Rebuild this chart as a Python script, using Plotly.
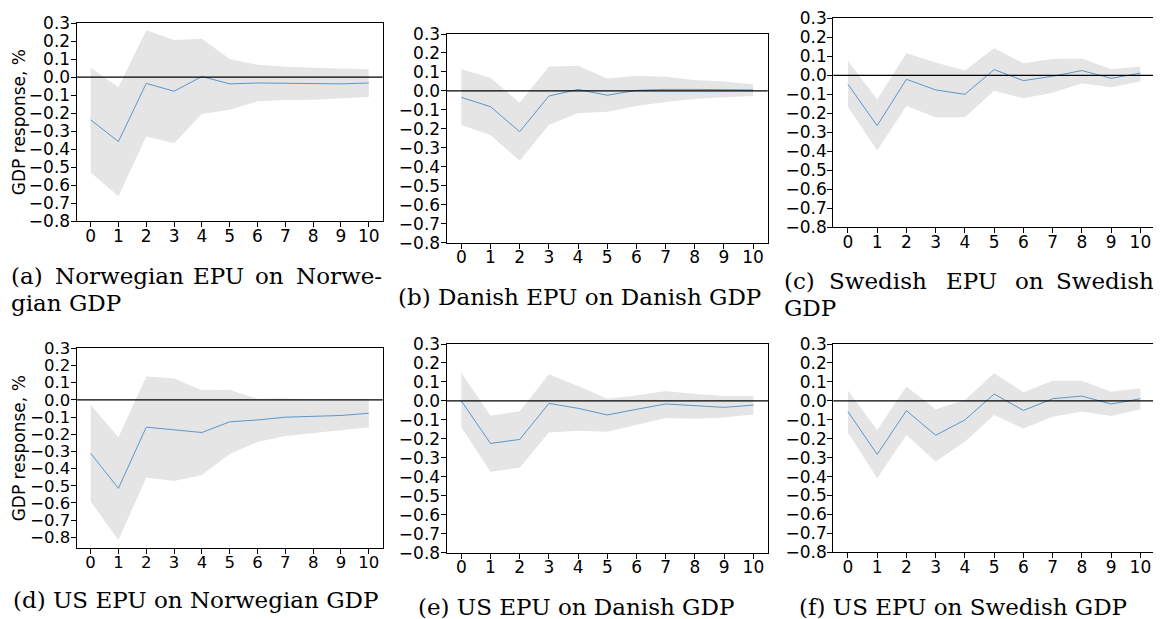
import plotly.graph_objects as go

W, H = 1161, 619
OFF = 8  # page body margin offset compensation

horizons = list(range(11))
y_ticks = [round(-0.8 + 0.1 * i, 1) for i in range(12)]

# (a) Norwegian EPU on Norwegian GDP
a_mid = [-0.237, -0.358, -0.034, -0.078, 0.004, -0.037, -0.032, -0.034, -0.037, -0.037, -0.032]
a_up = [0.052, -0.056, 0.261, 0.207, 0.214, 0.102, 0.069, 0.058, 0.052, 0.048, 0.045]
a_lo = [-0.530, -0.662, -0.330, -0.367, -0.205, -0.181, -0.134, -0.127, -0.125, -0.118, -0.110]

# (b) Danish EPU on Danish GDP
b_mid = [-0.034, -0.083, -0.215, -0.027, 0.008, -0.023, 0.003, 0.008, 0.008, 0.008, 0.005]
b_up = [0.114, 0.070, -0.062, 0.128, 0.133, 0.065, 0.080, 0.075, 0.057, 0.049, 0.035]
b_lo = [-0.180, -0.233, -0.368, -0.180, -0.118, -0.110, -0.080, -0.059, -0.043, -0.034, -0.027]

# (c) Swedish EPU on Swedish GDP
c_mid = [-0.047, -0.265, -0.021, -0.077, -0.100, 0.030, -0.028, -0.005, 0.025, -0.016, 0.011]
c_up = [0.075, -0.126, 0.116, 0.067, 0.025, 0.142, 0.063, 0.086, 0.089, 0.032, 0.046]
c_lo = [-0.165, -0.396, -0.161, -0.221, -0.221, -0.081, -0.121, -0.092, -0.042, -0.063, -0.033]

# (d) US EPU on Norwegian GDP
d_mid = [-0.311, -0.515, -0.159, -0.175, -0.190, -0.128, -0.117, -0.101, -0.097, -0.091, -0.078]
d_up = [-0.029, -0.217, 0.136, 0.124, 0.056, 0.058, 0.006, 0.008, 0.002, 0.004, 0.006]
d_lo = [-0.592, -0.816, -0.452, -0.472, -0.437, -0.315, -0.245, -0.210, -0.190, -0.175, -0.159]

# (e) US EPU on Danish GDP
e_mid = [0.000, -0.224, -0.203, -0.013, -0.039, -0.074, -0.044, -0.016, -0.025, -0.034, -0.022]
e_up = [0.149, -0.078, -0.055, 0.140, 0.079, 0.012, 0.029, 0.052, 0.036, 0.026, 0.026]
e_lo = [-0.139, -0.373, -0.352, -0.166, -0.157, -0.162, -0.127, -0.090, -0.094, -0.087, -0.071]

# (f) US EPU on Swedish GDP
f_mid = [-0.057, -0.283, -0.052, -0.182, -0.101, 0.036, -0.051, 0.011, 0.025, -0.017, 0.011]
f_up = [0.054, -0.154, 0.075, -0.045, 0.004, 0.145, 0.045, 0.106, 0.106, 0.048, 0.066]
f_lo = [-0.168, -0.409, -0.181, -0.321, -0.216, -0.075, -0.146, -0.084, -0.057, -0.080, -0.045]

panels = [
    (a_mid, a_up, a_lo),
    (b_mid, b_up, b_lo),
    (c_mid, c_up, c_lo),
    (d_mid, d_up, d_lo),
    (e_mid, e_up, e_lo),
    (f_mid, f_up, f_lo),
]

# pixel boxes in the target picture: (left, right, top, bottom)
boxes = [
    (76.7, 382.7, 23.3, 221.0),
    (446.7, 767.7, 34.0, 242.7),
    (833.3, 1155.0, 18.3, 227.3),
    (76.7, 382.7, 348.3, 548.3),
    (446.7, 768.0, 344.0, 552.7),
    (833.3, 1155.0, 344.0, 552.3),
]
y_ranges = [[-0.8, 0.3], [-0.8, 0.3], [-0.8, 0.3], [-0.864, 0.3], [-0.8, 0.3], [-0.8, 0.3]]
tick_sizes = [17, 17, 17, 16.5, 17, 17]

FILL = "#e5e5e5"
LINE = "#5a96cc"
CAPFONT = dict(family="DejaVu Serif", size=23, color="black")

fig = go.Figure()
layout = dict(
    width=W, height=H, autosize=False,
    margin=dict(l=0, r=0, t=0, b=0, pad=0),
    paper_bgcolor="white", plot_bgcolor="white",
    showlegend=False,
)
shapes = []
annotations = []

def px(x):
    return (x - OFF) / W

def py(y):
    return 1 - (y - OFF) / H

for i, ((mid, up, lo), (l, r, t, b), yr, ts) in enumerate(zip(panels, boxes, y_ranges, tick_sizes)):
    n = i + 1
    xa = "x" if n == 1 else f"x{n}"
    ya = "y" if n == 1 else f"y{n}"
    xkey = "xaxis" if n == 1 else f"xaxis{n}"
    ykey = "yaxis" if n == 1 else f"yaxis{n}"
    tickfont = dict(family="DejaVu Sans", size=ts, color="black")
    fig.add_trace(go.Scatter(
        x=horizons + horizons[::-1], y=up + lo[::-1],
        fill="toself", fillcolor=FILL, line=dict(width=0), mode="lines",
        hoverinfo="skip", xaxis=xa, yaxis=ya))
    fig.add_trace(go.Scatter(
        x=horizons, y=mid, mode="lines", line=dict(color=LINE, width=1),
        xaxis=xa, yaxis=ya))
    layout[xkey] = dict(
        domain=[px(l), px(r)], anchor=ya, range=[-0.5, 10.5], automargin=False,
        tickmode="array", tickvals=horizons, ticktext=[str(h) for h in horizons],
        ticks="outside", ticklen=5, tickwidth=1.3, tickcolor="black",
        ticklabelstandoff=-6,
        showline=True, linecolor="black", linewidth=1.3, mirror=True,
        showgrid=False, zeroline=False, tickfont=tickfont,
    )
    layout[ykey] = dict(
        domain=[py(b), py(t)], anchor=xa, range=yr, automargin=False,
        tickmode="array", tickvals=y_ticks,
        ticktext=[f"{v:.1f}".replace("-", "\u2212") for v in y_ticks],
        ticks="outside", ticklen=5, tickwidth=1.3, tickcolor="black",
        ticklabelstandoff=-3,
        showline=True, linecolor="black", linewidth=1.3, mirror=True,
        showgrid=False, zeroline=False, tickfont=tickfont,
    )
    shapes.append(dict(type="line", xref=f"{xa} domain", yref=ya,
                       x0=0, x1=1, y0=0, y1=0,
                       line=dict(color="black", width=1.3), layer="above"))

# y-axis titles
for (l, r, t, b) in (boxes[0], boxes[3]):
    annotations.append(dict(text="GDP response, %", textangle=-90,
                            x=px(19), y=py((t + b) / 2), xref="paper", yref="paper",
                            xanchor="center", yanchor="middle", showarrow=False,
                            font=dict(family="DejaVu Sans", size=17, color="black")))

def caption(words, baseline):
    for word, x0, anchor in words:
        annotations.append(dict(text=word, x=px(x0), y=py(baseline + 6), xref="paper", yref="paper",
                                xanchor=anchor, yanchor="bottom", showarrow=False,
                                font=CAPFONT, borderpad=0))

caption([("(a)", 10, "left"), ("Norwegian", 54, "left"), ("EPU", 219, "center"),
         ("on", 269, "center"), ("Norwe-", 383, "right")], 284)
caption([("gian GDP", 10, "left")], 311)
caption([("(b) Danish EPU on Danish GDP", 397, "left")], 305)
caption([("(c)", 783, "left"), ("Swedish", 878, "center"), ("EPU", 971, "center"),
         ("on", 1029, "center"), ("Swedish", 1155, "right")], 289)
caption([("GDP", 783, "left")], 316)
caption([("(d) US EPU on Norwegian GDP", 12, "left")], 608)
caption([("(e) US EPU on Danish GDP", 417, "left")], 615)
caption([("(f) US EPU on Swedish GDP", 798, "left")], 615)

layout["shapes"] = shapes
layout["annotations"] = annotations
fig.update_layout(**layout)
fig.write_html("out.html")
